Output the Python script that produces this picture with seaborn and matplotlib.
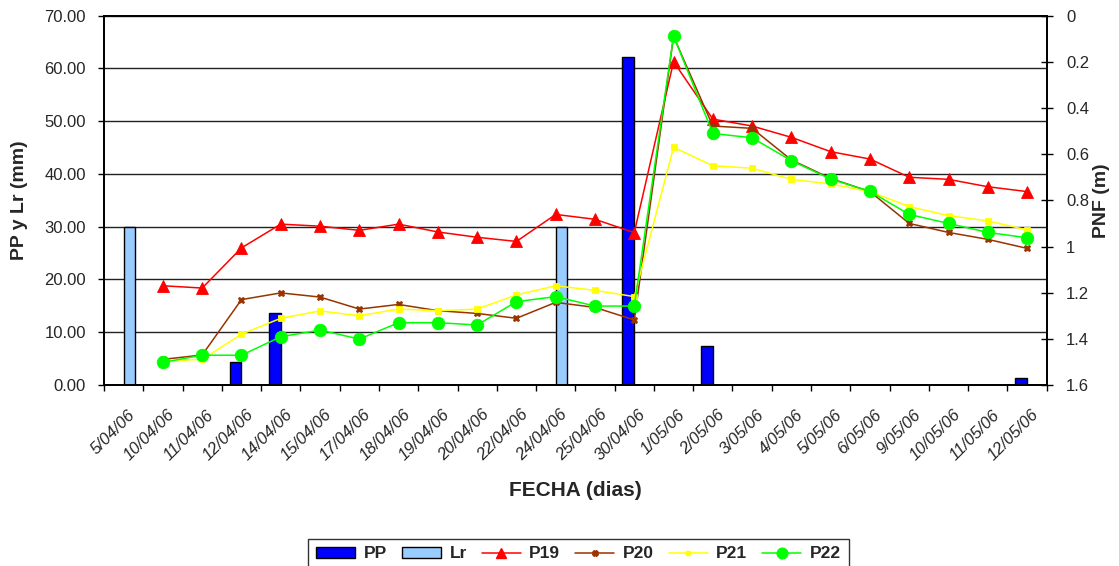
import numpy as np
import pandas as pd
import matplotlib
matplotlib.use("Agg")
import matplotlib.pyplot as plt
import matplotlib.transforms as mtransforms
from matplotlib.lines import Line2D
from matplotlib.patches import Patch
from matplotlib.ticker import FixedLocator, FuncFormatter
import seaborn as sns

nan = np.nan

# ---------------- data ----------------
fechas = ["5/04/06", "10/04/06", "11/04/06", "12/04/06", "14/04/06", "15/04/06",
          "17/04/06", "18/04/06", "19/04/06", "20/04/06", "22/04/06", "24/04/06",
          "25/04/06", "30/04/06", "1/05/06", "2/05/06", "3/05/06", "4/05/06",
          "5/05/06", "6/05/06", "9/05/06", "10/05/06", "11/05/06", "12/05/06"]

pp = [nan, nan, nan, 4.4, 13.6, nan, nan, nan, nan, nan, nan, nan,
      nan, 62.1, nan, 7.3, nan, nan, nan, nan, nan, nan, nan, 1.3]
lr = [30.0, nan, nan, nan, nan, nan, nan, nan, nan, nan, nan, 30.0,
      nan, nan, nan, nan, nan, nan, nan, nan, nan, nan, nan, nan]

p19 = [nan, 1.17, 1.18, 1.006, 0.903, 0.912, 0.930, 0.903, 0.937, 0.960, 0.978, 0.861,
       0.882, 0.940, 0.199, 0.448, 0.478, 0.527, 0.589, 0.621, 0.700, 0.709, 0.741, 0.762]
p20 = [nan, 1.489, 1.470, 1.230, 1.201, 1.219, 1.271, 1.251, 1.278, 1.290, 1.311, 1.242,
       1.264, 1.318, 0.090, 0.478, 0.488, 0.625, 0.705, 0.762, 0.900, 0.939, 0.969, 1.008]
p21 = [nan, 1.496, 1.489, 1.380, 1.311, 1.279, 1.300, 1.271, 1.278, 1.271, 1.210, 1.170,
       1.190, 1.217, 0.570, 0.650, 0.661, 0.709, 0.729, 0.762, 0.827, 0.866, 0.889, 0.928]
p22 = [nan, 1.502, 1.471, 1.471, 1.391, 1.362, 1.401, 1.330, 1.330, 1.340, 1.239, 1.217,
       1.258, 1.258, 0.088, 0.510, 0.529, 0.628, 0.708, 0.761, 0.861, 0.900, 0.939, 0.962]

left_ticks = [0, 10, 20, 30, 40, 50, 60, 70]
right_ticks = [0, 0.2, 0.4, 0.6, 0.8, 1.0, 1.2, 1.4, 1.6]

# ---------------- styling ----------------
sns.set_theme(style="white")
plt.rcParams["font.family"] = ["Liberation Sans", "DejaVu Sans"]

bar_colors = {"PP": "#0000FF", "Lr": "#99CCFF"}
line_styles = {
    "P19": dict(color="#FF0000", marker="^", ms=8.6),
    "P20": dict(color="#993300", marker="X", ms=4.5),
    "P21": dict(color="#FFFF00", marker="s", ms=3.8),
    "P22": dict(color="#00FF00", marker="o", ms=9.0),
}

# ---------------- long-form tables ----------------
rows = []
for name, vals in (("PP", pp), ("Lr", lr)):
    for f, v in zip(fechas, vals):
        if not np.isnan(v):
            rows.append({"fecha": f, "serie": name, "mm": v})
bars_df = pd.DataFrame(rows)

lrows = []
for name, vals in (("P19", p19), ("P20", p20), ("P21", p21), ("P22", p22)):
    for i, v in enumerate(vals):
        if not np.isnan(v):
            lrows.append({"pos": i, "serie": name, "pnf": v})
lines_df = pd.DataFrame(lrows)

# ---------------- figure ----------------
W, H = 1119, 566
fig = plt.figure(figsize=(W / 100, H / 100), dpi=100)
x0, x1, y_top, y_bot = 104, 1046.7, 15.7, 385
ax = fig.add_axes([x0 / W, 1 - y_bot / H, (x1 - x0) / W, (y_bot - y_top) / H])

sns.barplot(data=bars_df, x="fecha", y="mm", hue="serie", order=fechas,
            hue_order=["PP", "Lr"], palette=bar_colors, width=0.6, dodge=True,
            saturation=1, edgecolor="black", linewidth=1.0, errorbar=None,
            ax=ax, legend=False)

ax.set_xlim(-0.5, len(fechas) - 0.5)
ax.set_ylim(0, 70)
ax.set_yticks(left_ticks)
ax.yaxis.set_major_formatter(FuncFormatter(lambda v, p: f"{v:.2f}"))
ax.set_axisbelow(True)
ax.yaxis.grid(True, color="#222222", linewidth=1.0)
ax.xaxis.grid(False)
for s in ax.spines.values():
    s.set_color("black")
    s.set_linewidth(1.3)

# x ticks: labels at category centres, tick marks at boundaries
ax.set_xticks(range(len(fechas)))
ax.set_xticklabels(fechas, rotation=45, ha="right", rotation_mode="anchor",
                   fontstyle="italic", fontsize=12)
ax.xaxis.set_minor_locator(FixedLocator(np.arange(-0.5, len(fechas), 1.0)))
ax.tick_params(axis="x", which="major", length=0, pad=16)
ax.tick_params(axis="x", which="minor", bottom=True, length=4, width=1.0,
               color="black", direction="out")
offset = mtransforms.ScaledTranslation(4 / 100, 0, fig.dpi_scale_trans)
for lab in ax.get_xticklabels():
    lab.set_transform(lab.get_transform() + offset)

ax.tick_params(axis="y", which="major", left=True, length=4, width=1.0,
               color="black", direction="out", labelsize=12, pad=9)

ax.set_xlabel("FECHA (dias)", fontsize=15, fontweight="bold")
ax.xaxis.set_label_coords(0.5, -(490 - y_bot) / (y_bot - y_top))
ax.xaxis.label.set_va("center")
ax.set_ylabel("PP y Lr (mm)", fontsize=14, fontweight="bold")
ax.yaxis.set_label_coords(-(x0 - 20) / (x1 - x0), 0.5)
ax.yaxis.label.set_va("center")

# ---------------- secondary axis (lines) ----------------
ax2 = ax.twinx()
for name, st in line_styles.items():
    sub = lines_df[lines_df["serie"] == name]
    sns.lineplot(data=sub, x="pos", y="pnf", color=st["color"], marker=st["marker"],
                 markersize=st["ms"], markeredgecolor=st["color"], markeredgewidth=0.6,
                 linewidth=1.1, ax=ax2, legend=False, sort=True, estimator=None)

ax2.set_xlim(-0.5, len(fechas) - 0.5)
ax2.set_ylim(1.6, 0)
ax2.set_yticks(right_ticks)
ax2.yaxis.set_major_formatter(FuncFormatter(lambda v, p: f"{v:g}"))
ax2.tick_params(axis="y", right=True, length=8, width=1.0, color="black",
                direction="inout", labelsize=12, pad=10)
ax2.grid(False)
for s in ax2.spines.values():
    s.set_color("black")
    s.set_linewidth(1.3)
ax2.set_xlabel("")
ax2.set_ylabel("PNF (m)", fontsize=14, fontweight="bold", rotation=90)
ax2.yaxis.set_label_coords((1101 - x0) / (x1 - x0), 0.5)
ax2.yaxis.label.set_va("center")

# ---------------- legend ----------------
handles = [Patch(facecolor=bar_colors["PP"], edgecolor="black", linewidth=1.0),
           Patch(facecolor=bar_colors["Lr"], edgecolor="black", linewidth=1.0)]
labels = ["PP", "Lr"]
for name, st in line_styles.items():
    handles.append(Line2D([], [], color=st["color"], marker=st["marker"],
                          markersize=st["ms"] * 0.85, markeredgecolor=st["color"],
                          linewidth=1.1))
    labels.append(name)
leg = fig.legend(handles, labels, loc="upper center", ncol=6,
                 bbox_to_anchor=(578.5 / W, 1 - 530 / H), frameon=True,
                 fancybox=False, shadow=False, edgecolor="black",
                 prop={"weight": "bold", "size": 12.5}, handlelength=2.25,
                 handleheight=0.55, handletextpad=0.5, columnspacing=0.85,
                 borderpad=0.45)
leg.get_frame().set_linewidth(1.0)

fig.savefig("out.png", dpi=100)
